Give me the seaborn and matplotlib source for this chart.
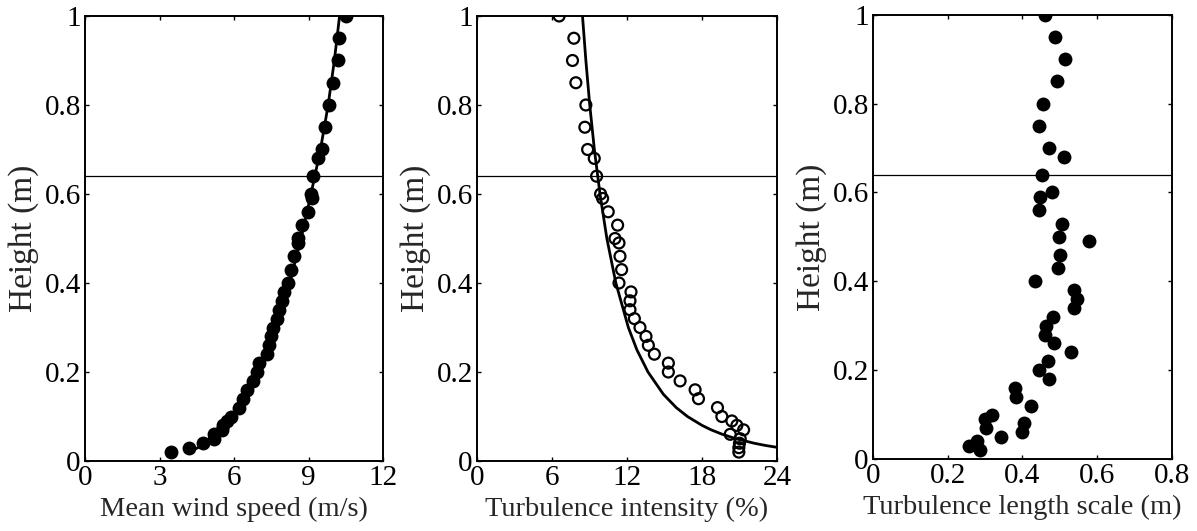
import numpy as np
import pandas as pd
import matplotlib
matplotlib.use("Agg")
import matplotlib.pyplot as plt
import seaborn as sns

# ---------------- data ----------------
heights = [1.00, 0.95, 0.90, 0.85, 0.80, 0.75, 0.70, 0.68, 0.64, 0.60,
           0.59, 0.56, 0.53, 0.50, 0.49, 0.46, 0.43, 0.40, 0.38, 0.36,
           0.34, 0.32, 0.30, 0.28, 0.26, 0.24, 0.22, 0.20, 0.18, 0.16,
           0.14, 0.12, 0.10, 0.09, 0.08, 0.07, 0.06, 0.05, 0.04, 0.03, 0.02]

wind_speed = [10.50, 10.23, 10.19, 9.99, 9.82, 9.68, 9.55, 9.37, 9.19, 9.08,
              9.12, 8.99, 8.75, 8.58, 8.58, 8.42, 8.29, 8.18, 8.01, 7.94,
              7.81, 7.74, 7.58, 7.49, 7.41, 7.31, 7.02, 6.94, 6.78, 6.51,
              6.38, 6.21, 5.87, 5.71, 5.54, 5.50, 5.20, 5.20, 4.77, 4.17, 3.47]

turb_intensity = [6.57, 7.75, 7.64, 7.91, 8.71, 8.63, 8.85, 9.38, 9.57, 9.89,
                  10.05, 10.50, 11.25, 11.04, 11.36, 11.44, 11.57, 11.36, 12.32, 12.24,
                  12.24, 12.59, 13.04, 13.52, 13.71, 14.19, 15.31, 15.31, 16.25, 17.45,
                  17.72, 19.24, 19.59, 20.39, 20.79, 21.33, 20.26, 21.06, 21.00, 20.95, 20.95]

length_scale = [0.459, 0.488, 0.515, 0.493, 0.456, 0.443, 0.472, 0.511, 0.451, 0.480,
                0.446, 0.445, 0.505, 0.498, 0.578, 0.500, 0.494, 0.434, 0.537, 0.547,
                0.537, 0.481, 0.464, 0.459, 0.484, 0.530, 0.467, 0.445, 0.470, 0.379,
                0.383, 0.422, 0.318, 0.300, 0.404, 0.302, 0.399, 0.342, 0.278, 0.258, 0.287]

# fitted profile curves
curve_heights = [1.00, 0.90, 0.80, 0.70, 0.60, 0.50, 0.40, 0.30, 0.25, 0.20,
                 0.15, 0.12, 0.10, 0.08, 0.07, 0.06, 0.05, 0.04, 0.035, 0.03, 0.02]
wind_curve = [10.25, 10.04, 9.79, 9.48, 9.10, 8.70, 8.24, 7.73, 7.42, 7.04,
              6.59, 6.26, 6.01, 5.71, 5.53, 5.34, 5.12, 4.87, 4.72, 4.55, 4.15]
turb_curve = [8.44, 8.71, 9.02, 9.39, 9.84, 10.39, 11.11, 12.11, 12.79, 13.68,
              14.91, 15.94, 16.84, 18.01, 18.74, 19.63, 20.73, 22.17, 23.07, 24.17, 27.29]

ref_height = 0.64

x_ticks_1 = [0, 3, 6, 9, 12]
x_ticks_2 = [0, 6, 12, 18, 24]
x_ticks_3 = [0, 0.2, 0.4, 0.6, 0.8]
x_labels_3 = ["0", "0.2", "0.4", "0.6", "0.8"]
y_ticks = [0, 0.2, 0.4, 0.6, 0.8, 1]
y_labels = ["0", "0.2", "0.4", "0.6", "0.8", "1"]

x_titles = ["Mean wind speed (m/s)", "Turbulence intensity (%)", "Turbulence length scale (m)"]
y_title = "Height (m)"

# ---------------- styling ----------------
sns.set_theme(style="ticks")
plt.rcParams["font.family"] = ["Liberation Serif", "DejaVu Serif"]

pts = pd.DataFrame({"z": heights, "U": wind_speed, "I": turb_intensity, "L": length_scale})
crv = pd.DataFrame({"z": curve_heights, "U": wind_curve, "I": turb_curve})

fig = plt.figure(figsize=(11.97, 5.31), dpi=100)
ax1 = fig.add_axes([0.0710, 0.1318, 0.2490, 0.8381])
ax2 = fig.add_axes([0.3985, 0.1318, 0.2506, 0.8381])
ax3 = fig.add_axes([0.7293, 0.1356, 0.2498, 0.8367])

tick_fs = 21
lab_fs = 20.5

# panel 1
sns.lineplot(data=crv, x="U", y="z", sort=False, estimator=None, color="black",
             linewidth=2.0, ax=ax1)
sns.scatterplot(data=pts, x="U", y="z", color="black", s=100, edgecolor="black",
                linewidth=0, ax=ax1, zorder=3)
# panel 2
sns.lineplot(data=crv, x="I", y="z", sort=False, estimator=None, color="black",
             linewidth=2.0, ax=ax2)
sns.scatterplot(data=pts, x="I", y="z", facecolor="none", edgecolor="black", s=62,
                linewidth=1.6, ax=ax2, zorder=3)
# panel 3
sns.scatterplot(data=pts, x="L", y="z", color="black", s=100, edgecolor="black",
                linewidth=0, ax=ax3, zorder=3)

limits = [(0, 12), (0, 24), (0, 0.8)]
xticks = [x_ticks_1, x_ticks_2, x_ticks_3]
xticklabels = [[str(t) for t in x_ticks_1], [str(t) for t in x_ticks_2], x_labels_3]

for i, ax in enumerate([ax1, ax2, ax3]):
    ax.set_xlim(*limits[i])
    ax.set_ylim(0, 1)
    ax.set_xticks(xticks[i])
    ax.set_xticklabels(xticklabels[i])
    ax.set_yticks(y_ticks)
    ax.set_yticklabels(y_labels)
    ax.tick_params(direction="in", length=3, width=1.0, top=True, right=True,
                   labelsize=tick_fs, pad=3, colors="black")
    for sp in ax.spines.values():
        sp.set_visible(True)
        sp.set_linewidth(1.4)
        sp.set_color("black")
    ax.set_xlabel(x_titles[i], fontsize=lab_fs, labelpad=4)
    ax.set_ylabel(y_title, fontsize=24, labelpad=4)
    ax.axhline(ref_height, color="black", linewidth=0.9, zorder=1)

fig.savefig("out.png", dpi=100)
